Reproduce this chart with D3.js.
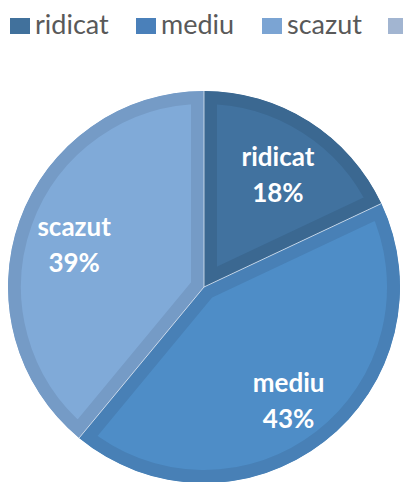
<!DOCTYPE html>
<html>
  <head>
    <meta charset="utf-8">
    <title>Pie</title>
    <script src="https://d3js.org/d3.v7.min.js"></script>
    <style>
      body { margin: 0; background: #fff; }
      svg { display: block; }
      .legend text { font-family: Lato, "Open Sans", sans-serif; font-size: 27px; fill: #595959; }
      .label { font-family: Lato, "Open Sans", sans-serif; font-size: 26px; font-weight: bold; fill: #fff; }
    </style>
  </head>
  <body>
    <svg id="svg" width="403" height="482">
      <defs></defs>
      <g id="legend" class="legend"></g>
      <g id="pie"></g>
    </svg>
    <script>
      // data
      var categories = ["ridicat", "mediu", "scazut", ""];
      var values = [18, 43, 39, 0];
      var fills = ["#41729f", "#4e8dc7", "#80aad8", "#a3b6d2"];
      var borders = ["#3b6891", "#4880b6", "#759bc6", "#96a9c4"];
      var legendFills = ["#41719c", "#4a80ba", "#7ba4d3", "#a2b5d1"];

      var svg = d3.select("#svg");
      var cx = 204, cy = 287, radius = 196;

      // legend
      var legendX = d3.scalePoint().domain(categories).range([10, 388]);
      var items = d3.select("#legend")
        .selectAll("g")
          .data(categories)
        .enter().append("g")
          .attr("transform", function(d) { return "translate(" + legendX(d) + ", 18)"; });
      items.append("rect")
        .attr("width", 20)
        .attr("height", 16)
        .style("fill", function(d, i) { return legendFills[i]; });
      items.append("text")
        .attr("x", 25)
        .attr("y", 16)
        .text(function(d) { return d; });

      // pie
      var data = categories.map(function(c, i) { return { name: c, value: values[i], i: i }; })
        .filter(function(d) { return d.value > 0; });
      var pie = d3.pie().sort(null).value(function(d) { return d.value; });
      var arc = d3.arc().innerRadius(0).outerRadius(radius);
      var labelArc = d3.arc().innerRadius(138).outerRadius(138);
      var arcs = pie(data);

      var defs = svg.select("defs");
      defs.selectAll("clipPath")
          .data(arcs)
        .enter().append("clipPath")
          .attr("id", function(d) { return "clip" + d.data.i; })
        .append("path")
          .attr("d", arc);

      var g = d3.select("#pie").attr("transform", "translate(" + cx + "," + cy + ")");
      g.selectAll(".slice")
          .data(arcs)
        .enter().append("path")
          .classed("slice", true)
          .attr("d", arc)
          .attr("clip-path", function(d) { return "url(#clip" + d.data.i + ")"; })
          .style("fill", function(d) { return fills[d.data.i]; })
          .style("stroke", function(d) { return borders[d.data.i]; })
          .style("stroke-width", 26)
          .style("stroke-linejoin", "miter");
      // thin separators
      g.selectAll(".sep")
          .data(arcs)
        .enter().append("path")
          .classed("sep", true)
          .attr("d", function(d) {
            var a = d.startAngle;
            return "M0,0L" + radius * Math.sin(a) + "," + (-radius * Math.cos(a));
          })
          .style("stroke", "#dce6f2")
          .style("stroke-width", 1)
          .style("opacity", 0.8);

      var labels = g.selectAll(".label")
          .data(arcs)
        .enter().append("text")
          .classed("label", true)
          .attr("text-anchor", "middle")
          .attr("transform", function(d) {
            var c = labelArc.centroid(d);
            return "translate(" + c[0] + "," + c[1] + ")";
          });
      labels.append("tspan")
        .attr("x", 0)
        .attr("y", -4)
        .text(function(d) { return d.data.name; });
      labels.append("tspan")
        .attr("x", 0)
        .attr("y", 32)
        .text(function(d) { return d.data.value + "%"; });
    </script>
  </body>
</html>
